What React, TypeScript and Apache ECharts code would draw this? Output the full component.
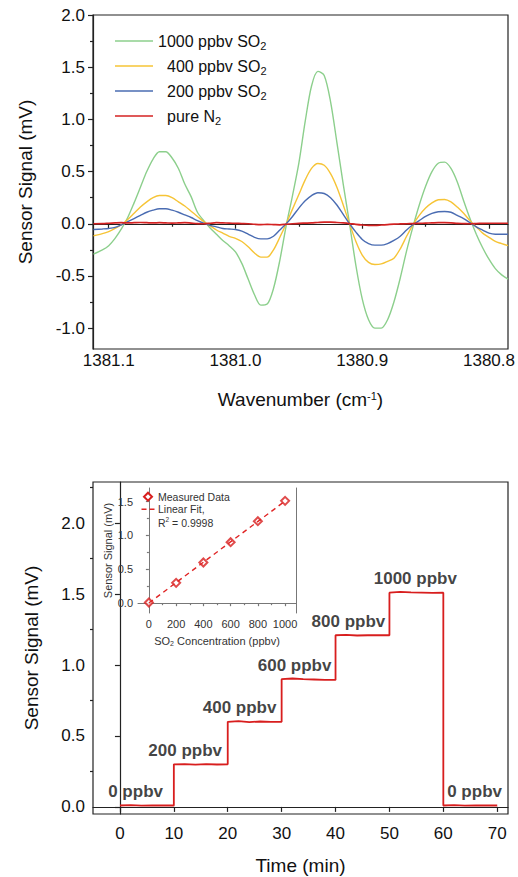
import React, { useEffect, useRef } from 'react';
import * as echarts from 'echarts';

const FONT = 'Liberation Sans, Arial, Helvetica, sans-serif';

// ---------- Top panel: WMS spectra ----------
const wavenumbers = [
  1381.112, 1381.105, 1381.1, 1381.095, 1381.09, 1381.085, 1381.08, 1381.075, 1381.07, 1381.065,
  1381.06, 1381.055, 1381.05, 1381.045, 1381.04, 1381.035, 1381.03, 1381.025, 1381.02, 1381.015,
  1381.01, 1381.005, 1381.0, 1380.995, 1380.99, 1380.985, 1380.98, 1380.975, 1380.97, 1380.965,
  1380.96, 1380.955, 1380.95, 1380.945, 1380.94, 1380.935, 1380.93, 1380.925, 1380.92, 1380.915,
  1380.91, 1380.905, 1380.9, 1380.895, 1380.89, 1380.885, 1380.88, 1380.875, 1380.87, 1380.865,
  1380.86, 1380.855, 1380.85, 1380.845, 1380.84, 1380.835, 1380.83, 1380.825, 1380.82, 1380.815,
  1380.81, 1380.805, 1380.8, 1380.795, 1380.79, 1380.785,
];
const so2_1000 = [
  -0.29, -0.25, -0.21, -0.14, -0.05, 0.06, 0.2, 0.35, 0.5, 0.62,
  0.69, 0.69, 0.63, 0.53, 0.38, 0.26, 0.11, 0.03, -0.04, -0.1,
  -0.16, -0.21, -0.27, -0.38, -0.53, -0.68, -0.78, -0.77, -0.62, -0.35,
  -0.02, 0.27, 0.58, 0.98, 1.32, 1.46, 1.42, 1.17, 0.78, 0.38,
  0.0, -0.4, -0.72, -0.92, -1.0, -1.0, -0.92, -0.75, -0.52, -0.26,
  -0.03, 0.18, 0.36, 0.5, 0.58, 0.59, 0.53, 0.4, 0.22, 0.05,
  -0.1, -0.23, -0.34, -0.43, -0.49, -0.53,
];
const so2_400 = [
  -0.115, -0.095, -0.075, -0.045, -0.01, 0.04, 0.1, 0.16, 0.21, 0.25,
  0.27, 0.27, 0.25, 0.21, 0.17, 0.12, 0.07, 0.02, -0.02, -0.06,
  -0.09, -0.12, -0.14, -0.17, -0.22, -0.28, -0.32, -0.32, -0.25, -0.13,
  0.0, 0.14, 0.28, 0.42, 0.53, 0.577, 0.56, 0.48, 0.35, 0.18,
  0.0, -0.17, -0.3, -0.37, -0.39, -0.385, -0.36, -0.33, -0.24, -0.12,
  -0.01, 0.08, 0.15, 0.2, 0.23, 0.233, 0.21, 0.16, 0.1, 0.03,
  -0.03, -0.09, -0.13, -0.17, -0.19, -0.21,
];
const so2_200 = [
  -0.055, -0.05, -0.045, -0.035, -0.01, 0.02, 0.05, 0.08, 0.11, 0.13,
  0.143, 0.143, 0.13, 0.11, 0.085, 0.06, 0.03, 0.005, -0.015, -0.03,
  -0.045, -0.05, -0.055, -0.07, -0.1, -0.13, -0.145, -0.145, -0.12, -0.06,
  0.0, 0.07, 0.15, 0.22, 0.27, 0.297, 0.29, 0.25, 0.18, 0.09,
  0.0, -0.08, -0.15, -0.19, -0.205, -0.205, -0.19, -0.16, -0.12, -0.06,
  -0.01, 0.03, 0.07, 0.1, 0.115, 0.118, 0.11, 0.08, 0.05, 0.01,
  -0.03, -0.06, -0.09, -0.1, -0.1, -0.1,
];
const pureN2 = [
  0.0, 0.002, 0.005, 0.008, 0.01, 0.008, 0.01, 0.012, 0.01, 0.008,
  0.01, 0.008, 0.006, 0.008, 0.01, 0.006, 0.002, 0.0, 0.005, 0.01,
  0.008, 0.006, 0.004, 0.002, 0.0, -0.005, -0.008, -0.006, -0.008, -0.01,
  -0.005, 0.0, 0.004, 0.006, 0.008, 0.012, 0.015, 0.015, 0.012, 0.008,
  0.002, -0.006, -0.012, -0.015, -0.015, -0.012, -0.008, -0.004, -0.002, 0.0,
  0.002, 0.004, 0.006, 0.008, 0.01, 0.01, 0.008, 0.004, 0.002, 0.0,
  0.002, 0.004, 0.005, 0.005, 0.005, 0.005,
];
const spectraNames = ['1000 ppbv SO2', '400 ppbv SO2', '200 ppbv SO2', 'pure N2'];
const spectraColors = ['#8ccf8c', '#f6c436', '#4a6cb2', '#d42222'];
const wnMajorTicks = [1381.1, 1381.0, 1380.9, 1380.8];
const wnMinorTicks = [1381.05, 1380.95, 1380.85];
const specMajorTicks = [-1, -0.5, 0, 0.5, 1, 1.5, 2];
const specMinorTicks = [-0.75, -0.25, 0.25, 0.75, 1.25, 1.75];

// ---------- Bottom panel: step response ----------
const timeMin = [
  0, 2, 4, 6, 8, 10, 10, 12, 14, 16, 18, 20, 20, 22, 24, 26, 28, 30, 30, 32, 34, 36, 38, 40,
  40, 42, 44, 46, 48, 50, 50, 52, 54, 56, 58, 60, 60, 62, 64, 66, 68, 70,
];
const stepSignal = [
  0.01, 0.012, 0.009, 0.011, 0.01, 0.01, 0.3, 0.302, 0.298, 0.301, 0.299, 0.3,
  0.6, 0.605, 0.598, 0.602, 0.6, 0.6, 0.9, 0.905, 0.9, 0.898, 0.895, 0.895,
  1.21, 1.212, 1.208, 1.21, 1.211, 1.21, 1.51, 1.515, 1.512, 1.51, 1.508, 1.51,
  0.01, 0.012, 0.009, 0.011, 0.01, 0.01,
];
const stepLabelText = ['0 ppbv', '200 ppbv', '400 ppbv', '600 ppbv', '800 ppbv', '1000 ppbv', '0 ppbv'];
const stepLabelTime = [2.9, 12.1, 22.2, 32.4, 42.4, 54.8, 65.8];
const stepLabelLevel = [0.01, 0.3, 0.6, 0.9, 1.21, 1.51, 0.01];
const timeTicks = [0, 10, 20, 30, 40, 50, 60, 70];
const sigMajorTicks = [0, 0.5, 1, 1.5, 2];
const sigMinorTicks = [0.25, 0.75, 1.25, 1.75, 2.25];

// ---------- Inset: calibration ----------
const concPpbv = [0, 200, 400, 600, 800, 1000];
const measured = [0.01, 0.3, 0.6, 0.9, 1.21, 1.51];
const fitConc = [0, 1000];
const fitSignal = [0.003, 1.507];
const concMajorTicks = [0, 200, 400, 600, 800, 1000];
const concMinorTicks = [100, 300, 500, 700, 900];
const insetMajorTicks = [0, 0.5, 1, 1.5];
const insetMinorTicks = [0.25, 0.75, 1.25];
const insetLegend = ['Measured Data', 'Linear Fit,'];
const fitQuality = '0.9998';

const zip = (a: number[], b: number[]) => a.map((v, i) => [v, b[i]]);

export default function App() {
  const ref = useRef<HTMLDivElement>(null);
  useEffect(() => {
    if (!ref.current) return;
    const chart = echarts.init(ref.current, undefined, { renderer: 'svg' });
    const axisLineDark = { show: true, lineStyle: { color: '#222', width: 1.2 } };
    const axisLineInset = { show: true, lineStyle: { color: '#777', width: 1 } };
    const lab = (fs: number, color = '#111') => ({ fontFamily: FONT, fontSize: fs, color });

    const majorX = (gridIndex: number, min: number, max: number, ticks: number[], fs: number, opts: any = {}, extra: any = {}) => ({
      type: 'value', gridIndex, min, max, inverse: !!opts.inverse, position: 'bottom',
      axisLine: opts.inset ? axisLineInset : axisLineDark,
      axisTick: { show: true, customValues: ticks, length: opts.inset ? 3 : 5, lineStyle: { color: opts.inset ? '#777' : '#222', width: 1.2 } },
      axisLabel: { customValues: ticks, margin: opts.margin ?? 7, ...lab(fs, opts.inset ? '#333' : '#111'),
        formatter: opts.fmt || ((v: number) => String(v)) },
      splitLine: { show: false },
      ...extra,
    });
    const minorX = (gridIndex: number, min: number, max: number, ticks: number[], inverse = false, inset = false) => ({
      type: 'value', gridIndex, min, max, inverse, position: 'bottom',
      axisLine: { show: false },
      axisTick: { show: true, customValues: ticks, length: inset ? 2 : 3, lineStyle: { color: inset ? '#777' : '#222', width: 1.2 } },
      axisLabel: { show: false },
      splitLine: { show: false },
    });
    const majorY = (gridIndex: number, min: number, max: number, ticks: number[], fs: number, inset = false, extra: any = {}) => ({
      type: 'value', gridIndex, min, max, position: 'left',
      axisLine: inset ? axisLineInset : axisLineDark,
      axisTick: { show: true, customValues: ticks, length: inset ? 3 : 5, lineStyle: { color: inset ? '#777' : '#222', width: 1.2 } },
      axisLabel: { customValues: ticks, margin: inset ? 5 : 8, ...lab(fs, inset ? '#333' : '#111'),
        formatter: (v: number) => v.toFixed(1) },
      splitLine: { show: false },
      ...extra,
    });
    const minorY = (gridIndex: number, min: number, max: number, ticks: number[], inset = false) => ({
      type: 'value', gridIndex, min, max, position: 'left',
      axisLine: { show: false },
      axisTick: { show: true, customValues: ticks, length: inset ? 2 : 3, lineStyle: { color: inset ? '#777' : '#222', width: 1.2 } },
      axisLabel: { show: false },
      splitLine: { show: false },
    });

    const bigName = (fs: number) => ({
      fontFamily: FONT, fontSize: fs, color: '#111',
      rich: {
        a: { fontFamily: FONT, fontSize: fs, color: '#111' },
        s: { fontFamily: FONT, fontSize: Math.round(fs * 0.6), color: '#111', verticalAlign: 'top', padding: [0, 0, 8, 0] },
      },
    });

    const legendRich = {
      t: { fontFamily: FONT, fontSize: 16, color: '#111' },
      s: { fontFamily: FONT, fontSize: 11, color: '#111', padding: [9, 0, 0, 0] },
      p: { width: 9 },
    };
    const legendFmt: Record<string, string> = {
      '1000 ppbv SO2': '{t|1000 ppbv SO}{s|2}',
      '400 ppbv SO2': '{p|}{t|400 ppbv SO}{s|2}',
      '200 ppbv SO2': '{p|}{t|200 ppbv SO}{s|2}',
      'pure N2': '{p|}{t|pure N}{s|2}',
    };
    const spectra = [so2_1000, so2_400, so2_200, pureN2];
    const insetText = { fontFamily: FONT, fontSize: 10.5, fill: '#333' };

    const option: any = {
      animation: false,
      backgroundColor: '#fff',
      grid: [
        { left: 93, top: 15, width: 415, height: 334, show: true, borderColor: '#222', borderWidth: 1.2, backgroundColor: 'transparent' },
        { left: 93, top: 482, width: 415, height: 332, show: true, borderColor: '#222', borderWidth: 1.2, backgroundColor: 'transparent' },
        { left: 138, top: 488, width: 158, height: 125 },
      ],
      xAxis: [
        majorX(0, 1380.785, 1381.1124, wnMajorTicks, 17, { inverse: true, margin: 3, fmt: (v: number) => v.toFixed(1) }, {
          name: '{a|Wavenumber (cm}{s|-1}{a|)}', nameLocation: 'middle', nameGap: 41, nameTextStyle: bigName(19),
        }),
        minorX(0, 1380.785, 1381.1124, wnMinorTicks, true),
        majorX(1, -5, 72, timeTicks, 17, { margin: 11 }, {
          name: 'Time (min)', nameLocation: 'middle', nameGap: 42, nameTextStyle: { fontFamily: FONT, fontSize: 19, color: '#111' },
        }),
        majorX(2, -80, 1080, concMajorTicks, 11, { inset: true, margin: 5 }, {
          name: '{a|SO}{b|2}{a| Concentration (ppbv)}', nameLocation: 'middle', nameGap: 21,
          nameTextStyle: { fontFamily: FONT, fontSize: 11, color: '#333', rich: {
            a: { fontFamily: FONT, fontSize: 11, color: '#333' },
            b: { fontFamily: FONT, fontSize: 7, color: '#333', padding: [6, 0, 0, 0] },
          } },
        }),
        minorX(2, -80, 1080, concMinorTicks, false, true),
      ],
      yAxis: [
        majorY(0, -1.2, 2.0, specMajorTicks, 17, false, {
          name: 'Sensor Signal (mV)', nameLocation: 'middle', nameGap: 58, nameTextStyle: { fontFamily: FONT, fontSize: 19, color: '#111' },
        }),
        minorY(0, -1.2, 2.0, specMinorTicks),
        majorY(1, -0.05, 2.29, sigMajorTicks, 17, false, {
          name: 'Sensor Signal (mV)', nameLocation: 'middle', nameGap: 52, nameTextStyle: { fontFamily: FONT, fontSize: 19, color: '#111' },
        }),
        minorY(1, -0.05, 2.29, sigMinorTicks),
        majorY(2, -0.145, 1.7, insetMajorTicks, 11, true, {
          name: 'Sensor Signal (mV)', nameLocation: 'middle', nameGap: 25, nameTextStyle: { fontFamily: FONT, fontSize: 11, color: '#333' },
        }),
        minorY(2, -0.145, 1.7, insetMinorTicks, true),
        { type: 'value', gridIndex: 2, min: -0.145, max: 1.7, position: 'right', axisLine: axisLineInset,
          axisTick: { show: false }, axisLabel: { show: false }, splitLine: { show: false } },
      ],
      legend: [
        {
          data: spectraNames, orient: 'vertical', left: 110, top: 28, itemWidth: 38, itemHeight: 12, itemGap: 7,
          icon: 'path://M0,0 L38,0 L38,1.5 L0,1.5 Z',
          formatter: (n: string) => legendFmt[n], textStyle: { ...legendRich.t, rich: legendRich },
          selectedMode: false,
        },
      ],
      graphic: [
        {
          type: 'polygon', z: 10,
          shape: { points: [[148, 492.7], [152, 496.7], [148, 500.7], [144, 496.7]] },
          style: { fill: '#fff', stroke: '#d81e1e', lineWidth: 2 },
        },
        { type: 'text', z: 10, style: { x: 158, y: 496.7, text: insetLegend[0], verticalAlign: 'middle', ...insetText } },
        {
          type: 'line', z: 10, shape: { x1: 141.5, y1: 509.3, x2: 155, y2: 509.3 },
          style: { stroke: '#e02424', lineWidth: 1.4, lineDash: [5, 3] },
        },
        { type: 'text', z: 10, style: { x: 158, y: 509.3, text: insetLegend[1], verticalAlign: 'middle', ...insetText } },
        {
          type: 'text', z: 10,
          style: {
            x: 158, y: 522.5, verticalAlign: 'middle',
            text: `{a|R}{s|2}{a| = ${fitQuality}}`,
            rich: {
              a: { ...insetText },
              s: { fontFamily: FONT, fontSize: 6.5, fill: '#333', padding: [0, 0, 6, 0] },
            },
          },
        },
      ],
      series: [
        ...spectra.map((vals, i) => ({
          name: spectraNames[i], type: 'line', xAxisIndex: 0, yAxisIndex: 0,
          data: zip(wavenumbers, vals), symbol: 'none', smooth: 0.3,
          lineStyle: { color: spectraColors[i], width: i === 3 ? 1.7 : 1.4 },
          itemStyle: { color: spectraColors[i] },
        })),
        {
          name: 'Signal', type: 'line', xAxisIndex: 2, yAxisIndex: 2,
          data: zip(timeMin, stepSignal), symbol: 'none',
          lineStyle: { color: '#d81e1e', width: 1.8 },
        },
        {
          name: 'Step labels', type: 'scatter', xAxisIndex: 2, yAxisIndex: 2, symbolSize: 0,
          data: stepLabelText.map((t, i) => ({ name: t, value: [stepLabelTime[i], stepLabelLevel[i]] })),
          label: {
            show: true, position: 'inside', offset: [0, -14], formatter: (p: any) => p.name,
            fontFamily: FONT, fontSize: 17, fontWeight: 'bold', color: '#111',
          },
          silent: true,
        },
        {
          name: insetLegend[1], type: 'line', xAxisIndex: 4, yAxisIndex: 4,
          data: zip(fitConc, fitSignal), symbol: 'none',
          lineStyle: { color: '#e02424', width: 1.4, type: [5, 4] }, itemStyle: { color: '#e02424' },
        },
        {
          name: insetLegend[0], type: 'scatter', xAxisIndex: 4, yAxisIndex: 4,
          data: zip(concPpbv, measured), symbol: 'emptyDiamond', symbolSize: 8,
          itemStyle: { color: '#d81e1e', borderWidth: 2 },
        },
      ],
    };
    chart.setOption(option);
    return () => chart.dispose();
  }, []);
  return <div ref={ref} style={{ position: 'absolute', left: 0, top: 0, width: 518, height: 877 }} />;
}
